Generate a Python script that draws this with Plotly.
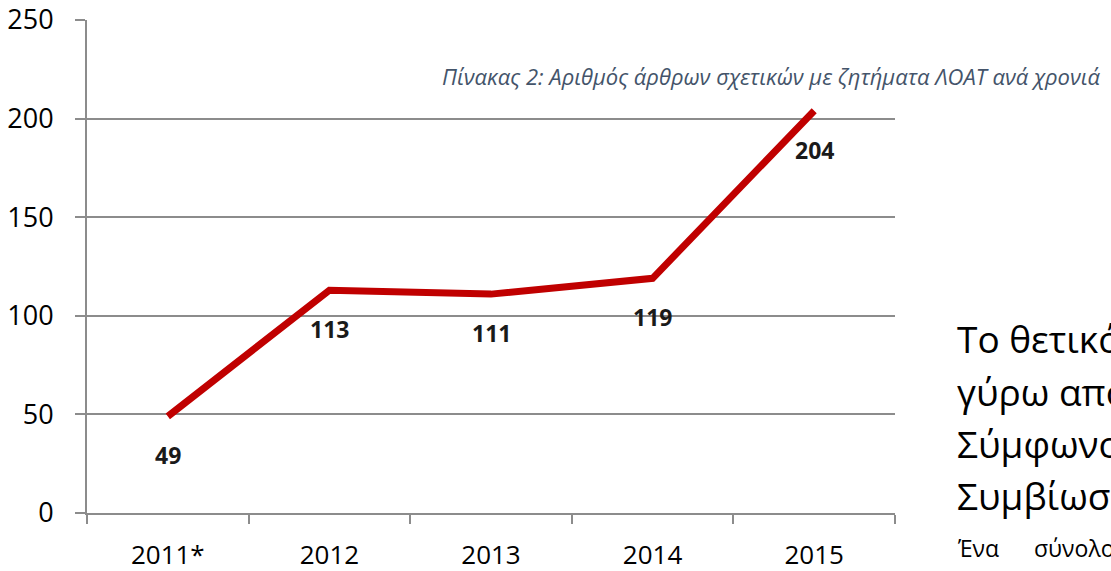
import plotly.graph_objects as go

categories = ["2011*", "2012", "2013", "2014", "2015"]
values = [49, 113, 111, 119, 204]
y_ticks = [0, 50, 100, 150, 200, 250]
caption = "Πίνακας 2: Αριθμός άρθρων σχετικών με ζητήματα ΛΟΑΤ ανά χρονιά"
side_lines = ["Το θετικό κλίμα", "γύρω από το", "Σύμφωνο", "Συμβίωσης"]
side_small_words = ["Ένα", "σύνολο"]

FONT = "Open Sans"
fig = go.Figure()
fig.add_trace(go.Scatter(
    x=categories, y=values, mode="lines",
    line=dict(color="#C00000", width=7),
    hoverinfo="skip", showlegend=False,
))
for i, v in enumerate(values):
    fig.add_annotation(
        x=i, y=v, text=str(v), showarrow=False, yshift=-39,
        font=dict(family=FONT, size=23, color="#1a1a1a", weight="bold"),
    )

L, R, T, B = 87, 216, 20, 58
W, H = 1111, 571
pw = W - L - R
ph = H - T - B

def px(x):
    return (x - L) / pw

def py(y):
    return (H - B - y) / ph

fig.add_annotation(
    xref="paper", yref="paper", x=px(440), y=py(76), xanchor="left", yanchor="middle",
    text="<i>" + caption + "</i>", showarrow=False,
    font=dict(family=FONT, size=22, color="#44546A"),
)
for i, t in enumerate(side_lines):
    fig.add_annotation(
        xref="paper", yref="paper", x=px(955), y=py(339 + i * 52), xanchor="left", yanchor="middle",
        text=t, showarrow=False, font=dict(family=FONT, size=37, color="#000000"),
    )
for xw, wd in zip([955, 1032], side_small_words):
    fig.add_annotation(
        xref="paper", yref="paper", x=px(xw), y=py(548), xanchor="left", yanchor="middle",
        text=wd, showarrow=False, font=dict(family=FONT, size=23, color="#000000"),
    )

fig.update_layout(
    width=W, height=H,
    margin=dict(l=L, r=R, t=T, b=B, autoexpand=False),
    paper_bgcolor="white", plot_bgcolor="white",
    font=dict(family=FONT, size=26, color="#000000"),
)
fig.update_xaxes(
    type="category", showgrid=False, showline=True, linecolor="#8c8c8c", linewidth=2,
    ticks="outside", tickson="boundaries", ticklen=9, tickcolor="#8c8c8c", tickwidth=2,
    tickfont=dict(family=FONT, size=26), ticklabelstandoff=18, range=[-0.5, 4.5],
    automargin=False,
)
fig.update_yaxes(
    range=[0, 250], tickvals=y_ticks, showgrid=True, gridcolor="#8c8c8c", gridwidth=2,
    showline=True, linecolor="#8c8c8c", linewidth=2, zeroline=False,
    ticks="outside", ticklen=10, tickcolor="#8c8c8c", tickwidth=2,
    tickfont=dict(family=FONT, size=27), ticklabelstandoff=16,
    automargin=False,
)
fig.write_html(
    "out.html",
    config={"displayModeBar": False},
    post_script="document.body.style.margin='0';document.body.style.overflow='hidden';",
)
